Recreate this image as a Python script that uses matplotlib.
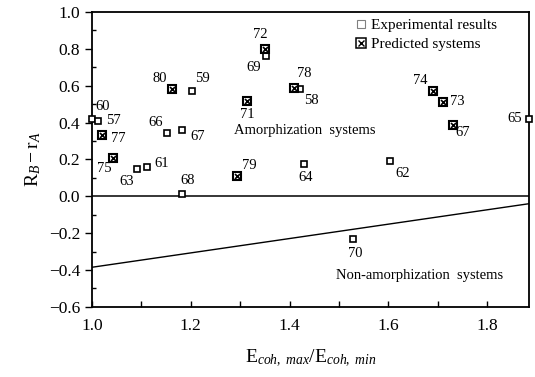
import matplotlib

matplotlib.use("Agg")
import matplotlib.pyplot as plt
from matplotlib.lines import Line2D
from matplotlib.legend_handler import HandlerTuple
from matplotlib.ticker import FuncFormatter, MultipleLocator

plt.rcParams["font.family"] = ["Liberation Serif", "DejaVu Serif"]
plt.rcParams["mathtext.fontset"] = "custom"
plt.rcParams["mathtext.rm"] = "Liberation Serif"
plt.rcParams["mathtext.it"] = "Liberation Serif:italic"

# experimental results (open squares)
EXP_IDS = ["60", "57", "63", "61", "66", "67", "59", "68", "69", "58", "64", "62", "70", "65"]
EXP_X = [1.000, 1.012, 1.091, 1.111, 1.152, 1.182, 1.202, 1.182, 1.352, 1.422, 1.430, 1.604, 1.529, 1.885]
EXP_Y = [0.420, 0.410, 0.150, 0.160, 0.345, 0.360, 0.570, 0.015, 0.760, 0.580, 0.176, 0.190, -0.230, 0.420]

# predicted systems (crossed squares)
PRED_IDS = ["77", "75", "80", "79", "71", "72", "78", "74", "73", "67"]
PRED_X = [1.020, 1.042, 1.162, 1.293, 1.313, 1.350, 1.408, 1.690, 1.710, 1.730]
PRED_Y = [0.335, 0.210, 0.580, 0.110, 0.520, 0.800, 0.590, 0.570, 0.510, 0.385]

# amorphization boundary
BOUNDARY_X = [1.0, 1.885]
BOUNDARY_Y = [-0.385, -0.04]

# label offsets in pixels (dx, dy up)
EXP_OFF = [(11, 12), (15, 0), (-10, -13), (15, 3), (-11, 10), (16, -7), (11, 13),
           (6, 13), (-12, -11), (11, -11), (1, -14), (12, -12), (2, -15), (-14, 0)]
PRED_OFF = [(16, -4), (-8, -11), (-12, 11), (13, 11), (1, -14), (-5, 14), (11, 14),
            (-13, 11), (15, 1), (10, -7)]


def tick_fmt(v, pos):
    return f"{v:.1f}".replace("-", "\u2212")


fig = plt.figure(figsize=(5.35, 3.77), dpi=100)
ax = fig.add_axes([0.172, 0.186, 0.817, 0.782])

ax.axhline(0, color="black", lw=1.1)
ax.plot(BOUNDARY_X, BOUNDARY_Y, color="black", lw=1.0)

ax.plot(EXP_X, EXP_Y, ls="none", marker="s", ms=4, mfc="white", mec="black", mew=1.2,
        clip_on=False, zorder=3)
ax.plot(PRED_X, PRED_Y, ls="none", marker="s", ms=6, mfc="white", mec="black", mew=1.5,
        zorder=3)
ax.plot(PRED_X, PRED_Y, ls="none", marker="x", ms=3.6, mec="black", mew=1.2, zorder=4)

for name, x, y, (dx, dy) in zip(EXP_IDS, EXP_X, EXP_Y, EXP_OFF):
    ax.annotate(name, (x, y), xytext=(dx, dy), textcoords="offset pixels",
                ha="center", va="center", fontsize=10.5, annotation_clip=False)
for name, x, y, (dx, dy) in zip(PRED_IDS, PRED_X, PRED_Y, PRED_OFF):
    ax.annotate(name, (x, y), xytext=(dx, dy), textcoords="offset pixels",
                ha="center", va="center", fontsize=10.5)

ax.text(1.43, 0.355, "Amorphization  systems", ha="center", va="center", fontsize=10.5)
ax.text(1.663, -0.43, "Non-amorphization  systems", ha="center", va="center", fontsize=10.5)

ax.set_xlim(1.0, 1.885)
ax.set_ylim(-0.6, 1.0)
ax.xaxis.set_major_locator(MultipleLocator(0.2))
ax.xaxis.set_minor_locator(MultipleLocator(0.1))
ax.yaxis.set_major_locator(MultipleLocator(0.2))
ax.yaxis.set_minor_locator(MultipleLocator(0.1))
ax.xaxis.set_major_formatter(FuncFormatter(tick_fmt))
ax.yaxis.set_major_formatter(FuncFormatter(tick_fmt))
ax.tick_params(axis="y", which="major", direction="out", length=5, width=1, labelsize=12.5)
ax.tick_params(axis="y", which="minor", direction="in", length=3, width=1)
ax.tick_params(axis="x", which="both", direction="in", length=4, width=1, labelsize=12.5, pad=8)
for side in ax.spines.values():
    side.set_linewidth(1.3)

ax.set_xlabel(r"$\mathrm{E}_{coh,\ max}/\mathrm{E}_{coh,\ min}$", fontsize=14, labelpad=10)
ax.set_ylabel(r"$\mathrm{R}_B - \mathrm{r}_A$", fontsize=14, labelpad=4)

exp_handle = Line2D([], [], ls="none", marker="s", ms=6, mfc="white", mec="gray", mew=0.8)
pred_box = Line2D([], [], ls="none", marker="s", ms=6.5, mfc="white", mec="black", mew=1.1)
pred_x = Line2D([], [], ls="none", marker="x", ms=5, mec="black", mew=1.0)
ax.legend([exp_handle, (pred_box, pred_x)], ["Experimental results", "Predicted systems"],
          handler_map={tuple: HandlerTuple(ndivide=1)}, loc="upper left",
          bbox_to_anchor=(0.585, 1.01), frameon=False, fontsize=11, handlelength=0.6,
          handletextpad=0.3, labelspacing=0.35, borderaxespad=0.2)

fig.savefig("out.png", dpi=100)
